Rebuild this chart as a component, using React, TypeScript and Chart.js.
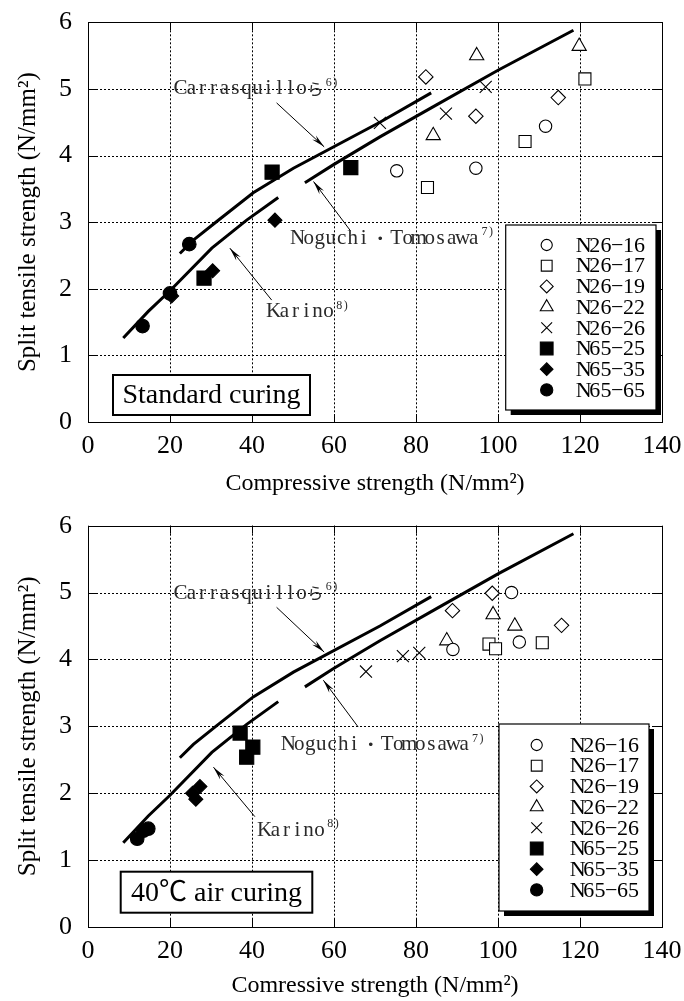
import React, { useEffect, useRef } from "react";
import { Chart, registerables } from "chart.js";

Chart.register(...registerables);

type Pt = { x: number; y: number };

// ---------- DATA ----------
const seriesLabels = ["N26-16", "N26-17", "N26-19", "N26-22", "N26-26", "N65-25", "N65-35", "N65-65"];
const xTickValues = [0, 20, 40, 60, 80, 100, 120, 140];
const yTickValues = [0, 1, 2, 3, 4, 5, 6];

// Standard curing
const stdN2616: Pt[] = [{ x: 75.3, y: 3.77 }, { x: 94.6, y: 3.81 }, { x: 111.6, y: 4.44 }];
const stdN2617: Pt[] = [{ x: 82.8, y: 3.52 }, { x: 106.6, y: 4.21 }, { x: 121.2, y: 5.15 }];
const stdN2619: Pt[] = [{ x: 82.4, y: 5.18 }, { x: 94.6, y: 4.59 }, { x: 114.7, y: 4.87 }];
const stdN2622: Pt[] = [{ x: 94.8, y: 5.5 }, { x: 84.2, y: 4.3 }, { x: 119.8, y: 5.64 }];
const stdN2626: Pt[] = [{ x: 71.2, y: 4.49 }, { x: 87.3, y: 4.63 }, { x: 97.0, y: 5.03 }];
const stdN6525: Pt[] = [{ x: 44.9, y: 3.75 }, { x: 64.1, y: 3.82 }, { x: 28.3, y: 2.16 }];
const stdN6535: Pt[] = [{ x: 45.6, y: 3.03 }, { x: 20.4, y: 1.89 }, { x: 30.4, y: 2.27 }];
const stdN6565: Pt[] = [{ x: 24.7, y: 2.67 }, { x: 13.3, y: 1.44 }, { x: 20.0, y: 1.93 }];

// 40°C air curing
const airN2616: Pt[] = [{ x: 103.3, y: 5.0 }, { x: 89.0, y: 4.15 }, { x: 105.2, y: 4.26 }];
const airN2617: Pt[] = [{ x: 97.8, y: 4.23 }, { x: 99.4, y: 4.16 }, { x: 110.8, y: 4.25 }];
const airN2619: Pt[] = [{ x: 98.6, y: 4.99 }, { x: 88.9, y: 4.73 }, { x: 115.5, y: 4.51 }];
const airN2622: Pt[] = [{ x: 98.8, y: 4.67 }, { x: 104.1, y: 4.5 }, { x: 87.5, y: 4.28 }];
const airN2626: Pt[] = [{ x: 67.8, y: 3.82 }, { x: 76.8, y: 4.05 }, { x: 80.8, y: 4.1 }];
const airN6525: Pt[] = [{ x: 37.1, y: 2.9 }, { x: 40.2, y: 2.69 }, { x: 38.7, y: 2.54 }];
const airN6535: Pt[] = [{ x: 25.5, y: 2.0 }, { x: 27.3, y: 2.1 }, { x: 26.3, y: 1.91 }];
const airN6565: Pt[] = [{ x: 12.0, y: 1.32 }, { x: 14.7, y: 1.47 }, { x: 13.5, y: 1.44 }];

// Prediction curves
const carrasquilloCurve: Pt[] = [
  { x: 22.4, y: 2.53 }, { x: 25.7, y: 2.73 }, { x: 31.4, y: 3.01 }, { x: 40.3, y: 3.44 },
  { x: 50.1, y: 3.81 }, { x: 71.2, y: 4.5 }, { x: 83.7, y: 4.94 },
];
const noguchiCurve: Pt[] = [
  { x: 52.9, y: 3.59 }, { x: 59.8, y: 3.86 }, { x: 66.3, y: 4.1 }, { x: 71.2, y: 4.28 },
  { x: 85.0, y: 4.76 }, { x: 100.0, y: 5.28 }, { x: 118.4, y: 5.88 },
];
const karinoCurve: Pt[] = [
  { x: 8.6, y: 1.26 }, { x: 14.7, y: 1.66 }, { x: 20.0, y: 1.97 }, { x: 30.2, y: 2.61 },
  { x: 38.7, y: 3.03 }, { x: 46.4, y: 3.37 },
];

const stdSeries = [stdN2616, stdN2617, stdN2619, stdN2622, stdN2626, stdN6525, stdN6535, stdN6565];
const airSeries = [airN2616, airN2617, airN2619, airN2622, airN2626, airN6525, airN6535, airN6565];

const yTitle = "Split tensile strength (N/mm²)";
const stdXTitle = "Compressive strength (N/mm²)";
const airXTitle = "Comressive strength (N/mm²)";
const stdCuring = "Standard curing";
const airCuring = "40℃ air curing";

// ---------- STYLE / LAYOUT ----------
const markerStyles = ["circle", "rect", "rectRot", "triangle", "crossRot", "rect", "rectRot", "circle"];
const markerFilled = [false, false, false, false, false, true, true, true];
const markerRadius = [6.2, 8.5, 7.2, 8.2, 8.5, 10, 7, 6.8];
const SERIF = "'Liberation Serif', 'Times New Roman', 'Noto Sans CJK JP', serif";
const MONO_FONT = "'Liberation Serif', serif";
const CJK_FONT = "'Noto Sans CJK JP', sans-serif";

type Note = { text: string; sup: string; x: number; y: number; ax1: number; ay1: number; ax2: number; ay2: number };

const stdNotes: Note[] = [
  { text: "Carrasquilloら", sup: "6)", x: 21.2, y: 5.0, ax1: 46.0, ay1: 4.79, ax2: 57.6, ay2: 4.13 },
  { text: "Noguchi・Tomosawa", sup: "7)", x: 49.8, y: 2.76, ax1: 63.9, ay1: 2.88, ax2: 55.0, ay2: 3.61 },
  { text: "Karino", sup: "8)", x: 43.9, y: 1.66, ax1: 44.8, ay1: 1.83, ax2: 34.6, ay2: 2.61 },
];
const airNotes: Note[] = [
  { text: "Carrasquilloら", sup: "6)", x: 21.2, y: 4.99, ax1: 46.0, ay1: 4.78, ax2: 57.6, ay2: 4.11 },
  { text: "Noguchi・Tomosawa", sup: "7)", x: 47.5, y: 2.73, ax1: 65.9, ay1: 2.99, ax2: 57.4, ay2: 3.69 },
  { text: "Karino", sup: "8)", x: 41.7, y: 1.45, ax1: 40.7, ay1: 1.65, ax2: 30.6, ay2: 2.39 },
];

type PanelSpec = {
  series: Pt[][];
  xTitle: string;
  curing: string;
  notes: Note[];
  canvasHeight: number;
  padTop: number;
  xAxisHeight: number;
  xTitlePad: number;
  legend: { left: number; top: number; right: number; bottom: number; markerX: number; textX: number; firstY: number; gap: number };
  box: { left: number; top: number; right: number; bottom: number };
};

const stdSpec: PanelSpec = {
  series: stdSeries,
  xTitle: stdXTitle,
  curing: stdCuring,
  notes: stdNotes,
  canvasHeight: 500,
  padTop: 22.3,
  xAxisHeight: 78,
  xTitlePad: 2,
  legend: { left: 505.7, top: 225, right: 656, bottom: 410, markerX: 546.7, textX: 578, firstY: 245, gap: 20.7 },
  box: { left: 113, top: 375, right: 310, bottom: 415 },
};

const airSpec: PanelSpec = {
  series: airSeries,
  xTitle: airXTitle,
  curing: airCuring,
  notes: airNotes,
  canvasHeight: 501,
  padTop: 25.7,
  xAxisHeight: 74,
  xTitlePad: 1,
  legend: { left: 499, top: 224, right: 649, bottom: 411, markerX: 536.7, textX: 572, firstY: 245, gap: 20.7 },
  box: { left: 120.7, top: 371.7, right: 312.3, bottom: 412.7 },
};

// ---------- DRAW HELPERS ----------
function drawMarker(ctx: CanvasRenderingContext2D, style: string, r: number, filled: boolean, x: number, y: number) {
  ctx.save();
  ctx.lineWidth = 1.1;
  ctx.strokeStyle = "#000";
  ctx.fillStyle = filled ? "#000" : "#fff";
  ctx.beginPath();
  if (style === "circle") {
    ctx.arc(x, y, r, 0, Math.PI * 2);
  } else if (style === "rect") {
    const s = r * Math.SQRT1_2;
    ctx.rect(x - s, y - s, 2 * s, 2 * s);
  } else if (style === "rectRot") {
    ctx.moveTo(x - r, y);
    ctx.lineTo(x, y - r);
    ctx.lineTo(x + r, y);
    ctx.lineTo(x, y + r);
    ctx.closePath();
  } else if (style === "triangle") {
    let a = 0;
    ctx.moveTo(x + Math.sin(a) * r, y - Math.cos(a) * r);
    a += (2 * Math.PI) / 3;
    ctx.lineTo(x + Math.sin(a) * r, y - Math.cos(a) * r);
    a += (2 * Math.PI) / 3;
    ctx.lineTo(x + Math.sin(a) * r, y - Math.cos(a) * r);
    ctx.closePath();
  } else if (style === "crossRot") {
    const d = r * Math.SQRT1_2;
    ctx.moveTo(x - d, y - d);
    ctx.lineTo(x + d, y + d);
    ctx.moveTo(x + d, y - d);
    ctx.lineTo(x - d, y + d);
    ctx.stroke();
    ctx.restore();
    return;
  }
  ctx.fill();
  ctx.stroke();
  ctx.restore();
}

function drawMono(ctx: CanvasRenderingContext2D, text: string, x: number, y: number, size: number, adv: number): number {
  ctx.textBaseline = "middle";
  ctx.textAlign = "left";
  let cx = x;
  for (const raw of text) {
    const ch = raw === "-" ? "−" : raw;
    const full = raw.charCodeAt(0) > 0x3000;
    const isDot = raw === "・";
    let a = adv;
    if (full) {
      ctx.font = `${Math.round(size * (isDot ? 0.82 : 0.75))}px ${CJK_FONT}`;
      a = isDot ? adv * 2 : adv * 1.5;
    } else {
      ctx.font = `${size}px ${MONO_FONT}`;
    }
    const w = ctx.measureText(ch).width;
    ctx.fillText(ch, cx + (a - w) / 2, y);
    cx += a;
  }
  return cx;
}

function drawArrow(ctx: CanvasRenderingContext2D, x1: number, y1: number, x2: number, y2: number) {
  ctx.save();
  ctx.strokeStyle = "#000";
  ctx.fillStyle = "#000";
  ctx.lineWidth = 1;
  ctx.beginPath();
  ctx.moveTo(x1, y1);
  ctx.lineTo(x2, y2);
  ctx.stroke();
  const ang = Math.atan2(y2 - y1, x2 - x1);
  const L = 14;
  const w = 0.2;
  ctx.beginPath();
  ctx.moveTo(x2, y2);
  ctx.lineTo(x2 - L * Math.cos(ang - w), y2 - L * Math.sin(ang - w));
  ctx.lineTo(x2 - L * 0.65 * Math.cos(ang), y2 - L * 0.65 * Math.sin(ang));
  ctx.lineTo(x2 - L * Math.cos(ang + w), y2 - L * Math.sin(ang + w));
  ctx.closePath();
  ctx.fill();
  ctx.restore();
}

function makeFramePlugin() {
  return {
    id: "frame",
    beforeDatasetsDraw(chart: any) {
      const { ctx, chartArea: a, scales } = chart;
      const xs = scales.x;
      const ys = scales.y;
      ctx.save();
      ctx.strokeStyle = "#000";
      ctx.lineWidth = 1;
      ctx.setLineDash([2, 2]);
      for (const t of xTickValues.slice(1, -1)) {
        const px = Math.round(xs.getPixelForValue(t)) + 0.5;
        ctx.beginPath();
        ctx.moveTo(px, a.top);
        ctx.lineTo(px, a.bottom);
        ctx.stroke();
      }
      for (const t of yTickValues.slice(1, -1)) {
        const py = Math.round(ys.getPixelForValue(t)) + 0.5;
        ctx.beginPath();
        ctx.moveTo(a.left, py);
        ctx.lineTo(a.right, py);
        ctx.stroke();
      }
      ctx.setLineDash([]);
      for (const t of xTickValues) {
        const px = Math.round(xs.getPixelForValue(t)) + 0.5;
        ctx.beginPath();
        ctx.moveTo(px, a.bottom);
        ctx.lineTo(px, a.bottom - 8);
        ctx.moveTo(px, a.top);
        ctx.lineTo(px, a.top + 8);
        ctx.stroke();
      }
      for (const t of yTickValues) {
        const py = Math.round(ys.getPixelForValue(t)) + 0.5;
        ctx.beginPath();
        ctx.moveTo(a.left, py);
        ctx.lineTo(a.left + 8, py);
        ctx.moveTo(a.right, py);
        ctx.lineTo(a.right - 8, py);
        ctx.stroke();
      }
      ctx.strokeRect(Math.round(a.left) + 0.5, Math.round(a.top) + 0.5, Math.round(a.right - a.left), Math.round(a.bottom - a.top));
      ctx.restore();
    },
  };
}

function makeOverlayPlugin(spec: PanelSpec) {
  return {
    id: "overlay",
    afterDatasetsDraw(chart: any) {
      const { ctx, scales } = chart;
      const xs = scales.x;
      const ys = scales.y;
      ctx.save();
      // annotations
      for (const n of spec.notes) {
        ctx.fillStyle = "#2a2a2a";
        const px = xs.getPixelForValue(n.x);
        const py = ys.getPixelForValue(n.y);
        const end = drawMono(ctx, n.text, px, py, 21, 11);
        drawMono(ctx, n.sup, end + 2, py - 6, 12, 6.5);
        drawArrow(ctx, xs.getPixelForValue(n.ax1), ys.getPixelForValue(n.ay1), xs.getPixelForValue(n.ax2), ys.getPixelForValue(n.ay2));
      }
      // curing label box
      const b = spec.box;
      ctx.fillStyle = "#fff";
      ctx.fillRect(b.left, b.top, b.right - b.left, b.bottom - b.top);
      ctx.strokeStyle = "#000";
      ctx.lineWidth = 2;
      ctx.strokeRect(b.left, b.top, b.right - b.left, b.bottom - b.top);
      ctx.fillStyle = "#000";
      ctx.font = `28px ${SERIF}`;
      ctx.textAlign = "center";
      ctx.textBaseline = "middle";
      ctx.fillText(spec.curing, (b.left + b.right) / 2, (b.top + b.bottom) / 2 + 1);
      // legend
      const L = spec.legend;
      ctx.fillStyle = "#000";
      ctx.fillRect(L.left + 5, L.top + 5, L.right - L.left, L.bottom - L.top);
      ctx.fillStyle = "#fff";
      ctx.fillRect(L.left, L.top, L.right - L.left, L.bottom - L.top);
      ctx.lineWidth = 1.2;
      ctx.strokeStyle = "#000";
      ctx.strokeRect(L.left, L.top, L.right - L.left, L.bottom - L.top);
      seriesLabels.forEach((label, i) => {
        const y = L.firstY + i * L.gap;
        drawMarker(ctx, markerStyles[i], markerRadius[i] * 0.9, markerFilled[i], L.markerX, y);
        ctx.fillStyle = "#000";
        drawMono(ctx, label, L.textX, y + 1, 22, 11.2);
      });
      ctx.restore();
    },
  };
}

function makeConfig(spec: PanelSpec): any {
  const curves = [carrasquilloCurve, noguchiCurve, karinoCurve].map((c) => ({
    data: c,
    showLine: true,
    borderColor: "#000",
    borderWidth: 3,
    pointRadius: 0,
    fill: false,
  }));
  const points = seriesLabels.map((label, i) => ({
    label,
    data: spec.series[i],
    showLine: false,
    pointStyle: markerStyles[i],
    pointRadius: markerRadius[i],
    pointBorderWidth: 1.1,
    pointBorderColor: "#000",
    pointBackgroundColor: markerFilled[i] ? "#000" : "#fff",
  }));
  return {
    type: "scatter",
    data: { datasets: [...curves, ...points] },
    options: {
      responsive: false,
      animation: false,
      events: [],
      layout: { autoPadding: false, padding: { left: 0, right: 22, top: spec.padTop, bottom: 0 } },
      plugins: { legend: { display: false }, tooltip: { enabled: false } },
      scales: {
        x: {
          type: "linear",
          min: 0,
          max: 140,
          grid: { display: false, drawTicks: false },
          border: { display: false },
          ticks: { stepSize: 20, autoSkip: false, maxRotation: 0, padding: 9, color: "#000", font: { family: SERIF, size: 26 } },
          title: { display: true, text: spec.xTitle, color: "#000", font: { family: SERIF, size: 24, lineHeight: 1.2 }, padding: { top: 0, bottom: spec.xTitlePad } },
          afterFit(scale: any) {
            scale.height = spec.xAxisHeight;
            scale.paddingLeft = 0;
            scale.paddingRight = 0;
          },
        },
        y: {
          type: "linear",
          min: 0,
          max: 6,
          grid: { display: false, drawTicks: false },
          border: { display: false },
          ticks: { stepSize: 1, autoSkip: false, padding: 16, color: "#000", font: { family: SERIF, size: 26 } },
          title: { display: true, text: yTitle, color: "#000", font: { family: SERIF, size: 25, lineHeight: 1.2 }, padding: { top: 13, bottom: 0 } },
          afterFit(scale: any) {
            scale.width = 88;
            scale.paddingTop = 0;
            scale.paddingBottom = 0;
          },
        },
      },
    },
    plugins: [makeFramePlugin(), makeOverlayPlugin(spec)],
  };
}

function Panel({ spec, top }: { spec: PanelSpec; top: number }) {
  const ref = useRef<HTMLCanvasElement>(null);
  useEffect(() => {
    if (!ref.current) return;
    const chart = new Chart(ref.current, makeConfig(spec));
    return () => chart.destroy();
  }, [spec]);
  return (
    <canvas
      ref={ref}
      width={684}
      height={spec.canvasHeight}
      style={{ position: "absolute", left: 0, top, width: 684, height: spec.canvasHeight, display: "block" }}
    />
  );
}

export default function App() {
  return (
    <div style={{ position: "absolute", left: 0, top: 0, width: 684, height: 1001, background: "#fff", overflow: "hidden" }}>
      <Panel spec={stdSpec} top={0} />
      <Panel spec={airSpec} top={500} />
    </div>
  );
}
